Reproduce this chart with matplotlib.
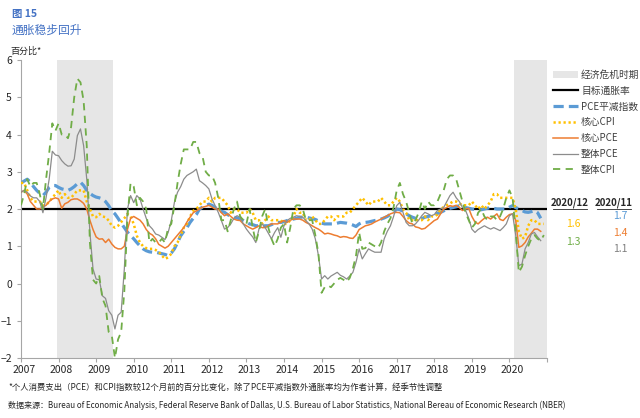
import numpy as np
import matplotlib
matplotlib.use("Agg")
import matplotlib.pyplot as plt
import matplotlib.transforms as mtransforms
from matplotlib.patches import Patch
from matplotlib.lines import Line2D

plt.rcParams['font.family'] = ['Noto Sans CJK SC', 'DejaVu Sans']

# monthly data, starting 2007-01
start_year = 2007

# Dallas Fed trimmed mean PCE (to 2020-11)
pce_trim = [
    2.70, 2.75, 2.80, 2.72, 2.60, 2.50, 2.42, 2.36, 2.45, 2.58, 2.63, 2.63,
    2.58, 2.54, 2.52, 2.50, 2.54, 2.60, 2.68, 2.72, 2.63, 2.50, 2.42, 2.36,
    2.32, 2.30, 2.27, 2.20, 2.09, 1.95, 1.87, 1.75, 1.62, 1.50, 1.38, 1.28,
    1.20, 1.10, 1.01, 0.93, 0.88, 0.85, 0.84, 0.84, 0.82, 0.80, 0.78, 0.75,
    0.82, 0.93, 1.10, 1.28, 1.40, 1.50, 1.64, 1.75, 1.85, 2.00, 2.05, 2.09,
    2.13, 2.10, 2.04, 1.98, 1.94, 1.91, 1.85, 1.80, 1.78, 1.76, 1.73, 1.69,
    1.64, 1.60, 1.58, 1.55, 1.55, 1.54, 1.55, 1.55, 1.58, 1.62, 1.64, 1.64,
    1.66, 1.69, 1.71, 1.73, 1.75, 1.78, 1.78, 1.78, 1.76, 1.74, 1.72, 1.68,
    1.62, 1.60, 1.60, 1.60, 1.60, 1.62, 1.64, 1.63, 1.62, 1.60, 1.57, 1.53,
    1.60, 1.64, 1.64, 1.65, 1.67, 1.69, 1.71, 1.73, 1.76, 1.80, 1.86, 1.91,
    2.00, 1.98, 1.94, 1.87, 1.82, 1.78, 1.75, 1.73, 1.74, 1.78, 1.80, 1.82,
    1.85, 1.88, 1.91, 1.95, 2.00, 2.02, 2.04, 2.06, 2.09, 2.07, 2.04, 2.02,
    2.00, 1.99, 1.98, 1.98, 2.00, 2.02, 2.04, 2.02, 2.00, 2.00, 2.00, 2.00,
    2.05, 2.09, 2.04, 2.00, 1.96, 1.92, 1.91, 1.93, 1.96, 1.90, 1.75,
]

# core CPI (to 2020-12)
core_cpi = [
    2.7, 2.7, 2.5, 2.3, 2.2, 2.2, 2.2, 2.1, 2.1, 2.2, 2.3, 2.4,
    2.5, 2.3, 2.4, 2.3, 2.3, 2.4, 2.5, 2.5, 2.5, 2.2, 2.0, 1.8,
    1.78, 1.87, 1.8, 1.78, 1.69, 1.55, 1.5, 1.55, 1.65, 1.75, 1.87, 1.8,
    1.6, 1.28, 1.1, 1.0, 0.95, 0.93, 0.93, 0.9, 0.85, 0.75, 0.66, 0.7,
    0.8, 1.0, 1.1, 1.3, 1.5, 1.6, 1.8, 1.95, 2.0, 2.1, 2.2, 2.2,
    2.3, 2.2, 2.3, 2.3, 2.3, 2.2, 2.1, 1.9, 2.0, 2.0, 1.9, 1.9,
    1.9, 2.0, 1.9, 1.7, 1.7, 1.6, 1.7, 1.8, 1.7, 1.7, 1.7, 1.7,
    1.6, 1.6, 1.7, 1.8, 2.0, 1.9, 1.9, 1.7, 1.7, 1.8, 1.7, 1.6,
    1.6, 1.7, 1.8, 1.8, 1.7, 1.8, 1.8, 1.8, 1.9, 1.9, 2.0, 2.1,
    2.2, 2.3, 2.2, 2.1, 2.2, 2.2, 2.2, 2.3, 2.2, 2.1, 2.1, 2.2,
    2.3, 2.2, 2.0, 1.9, 1.7, 1.7, 1.7, 1.7, 1.7, 1.8, 1.7, 1.8,
    1.8, 1.85, 2.0, 2.05, 2.1, 2.15, 2.2, 2.2, 2.15, 2.1, 2.1, 2.1,
    2.2, 2.1, 2.0, 2.1, 2.0, 2.1, 2.2, 2.4, 2.4, 2.3, 2.3, 2.3,
    2.3, 2.3, 2.0, 1.4, 1.2, 1.25, 1.55, 1.7, 1.7, 1.6, 1.6, 1.6,
]

# core PCE (to 2020-11)
core_pce = [
    2.45, 2.50, 2.40, 2.20, 2.10, 2.00, 2.00, 2.05, 2.10, 2.20, 2.27, 2.30,
    2.27, 2.02, 2.14, 2.18, 2.25, 2.27, 2.27, 2.22, 2.15, 2.00, 1.70, 1.45,
    1.25, 1.19, 1.20, 1.10, 1.19, 1.06, 0.97, 0.93, 0.93, 1.00, 1.45, 1.75,
    1.80, 1.75, 1.70, 1.60, 1.45, 1.35, 1.30, 1.20, 1.05, 1.00, 0.95, 1.00,
    1.10, 1.20, 1.30, 1.40, 1.50, 1.65, 1.78, 1.90, 1.95, 2.00, 2.05, 2.07,
    2.10, 2.05, 2.00, 2.00, 1.90, 1.82, 1.87, 1.80, 1.73, 1.70, 1.69, 1.60,
    1.55, 1.50, 1.46, 1.50, 1.55, 1.50, 1.50, 1.55, 1.60, 1.60, 1.60, 1.65,
    1.69, 1.64, 1.70, 1.73, 1.73, 1.73, 1.70, 1.64, 1.60, 1.55, 1.50, 1.46,
    1.40, 1.33, 1.35, 1.33, 1.30, 1.28, 1.24, 1.26, 1.25, 1.22, 1.21, 1.30,
    1.45, 1.50, 1.55, 1.57, 1.60, 1.65, 1.69, 1.73, 1.78, 1.82, 1.87, 1.90,
    1.91, 1.90, 1.80, 1.69, 1.62, 1.60, 1.52, 1.50, 1.46, 1.48, 1.55, 1.62,
    1.69, 1.73, 1.87, 2.00, 2.04, 2.09, 2.07, 2.10, 2.04, 1.96, 2.00, 2.02,
    1.80, 1.65, 1.60, 1.68, 1.75, 1.78, 1.73, 1.80, 1.87, 1.72, 1.69, 1.78,
    1.85, 1.87, 1.70, 0.97, 1.01, 1.10, 1.25, 1.35, 1.46, 1.46, 1.40,
]

# headline PCE (to 2020-11)
pce = [
    2.45, 2.50, 2.45, 2.35, 2.30, 2.30, 2.20, 1.90, 2.30, 2.80, 3.55, 3.45,
    3.43, 3.30, 3.21, 3.15, 3.16, 3.34, 3.97, 4.15, 3.70, 2.80, 1.38, 0.39,
    0.12, 0.10, -0.33, -0.40, -0.73, -0.85, -1.22, -0.85, -0.77, 0.39, 2.00, 2.36,
    2.17, 2.36, 2.27, 2.00, 1.75, 1.55, 1.46, 1.33, 1.30, 1.24, 1.18, 1.37,
    1.69, 2.18, 2.45, 2.60, 2.80, 2.90, 2.95, 3.00, 3.07, 2.76, 2.70, 2.63,
    2.54, 2.27, 2.09, 1.91, 1.69, 1.46, 1.50, 1.60, 1.75, 1.82, 1.78, 1.60,
    1.46, 1.35, 1.25, 1.10, 1.46, 1.60, 1.50, 1.35, 1.20, 1.37, 1.50, 1.24,
    1.55, 1.69, 1.75, 1.78, 1.82, 1.80, 1.78, 1.69, 1.60, 1.46, 1.20, 0.75,
    0.12, 0.21, 0.12, 0.20, 0.25, 0.30, 0.22, 0.18, 0.12, 0.20, 0.30, 0.57,
    0.93, 0.66, 0.80, 0.93, 0.88, 0.84, 0.84, 0.84, 1.20, 1.40, 1.55, 1.80,
    2.09, 2.18, 1.91, 1.64, 1.55, 1.55, 1.60, 1.70, 1.82, 1.91, 1.87, 1.82,
    1.85, 1.96, 2.00, 2.04, 2.20, 2.36, 2.45, 2.30, 2.20, 2.04, 1.96, 1.75,
    1.46, 1.37, 1.45, 1.50, 1.55, 1.50, 1.46, 1.50, 1.46, 1.42, 1.50, 1.60,
    1.82, 1.87, 1.30, 0.48, 0.52, 0.93, 1.10, 1.33, 1.37, 1.25, 1.15,
]

# headline CPI (to 2020-12)
cpi = [
    2.1, 2.4, 2.8, 2.6, 2.7, 2.7, 2.4, 2.0, 2.8, 3.5, 4.3, 4.1,
    4.3, 4.0, 4.0, 3.9, 4.2, 5.0, 5.5, 5.4, 4.9, 3.7, 1.1, 0.1,
    0.0, 0.2, -0.4, -0.6, -1.3, -1.4, -2.0, -1.5, -1.3, -0.2, 1.8, 2.7,
    2.6, 2.1, 2.3, 2.2, 2.0, 1.1, 1.2, 1.1, 1.1, 1.2, 1.1, 1.5,
    1.6, 2.1, 2.7, 3.2, 3.6, 3.6, 3.6, 3.8, 3.8, 3.5, 3.4, 3.0,
    2.9, 2.9, 2.7, 2.3, 1.7, 1.7, 1.4, 1.7, 2.0, 2.2, 1.8, 1.7,
    1.6, 2.0, 1.5, 1.1, 1.4, 1.8, 2.0, 1.5, 1.2, 1.0, 1.2, 1.5,
    1.6, 1.1, 1.5, 2.0, 2.1, 2.1, 2.0, 1.7, 1.7, 1.7, 1.3, 0.8,
    -0.25, -0.1, -0.05, -0.1, 0.0, 0.1, 0.15, 0.1, 0.04, 0.15, 0.4, 0.75,
    1.37, 0.93, 0.95, 1.1, 1.05, 1.0, 0.95, 1.1, 1.4, 1.6, 1.75, 2.05,
    2.5, 2.7, 2.4, 2.2, 1.9, 1.6, 1.7, 1.9, 2.2, 2.0, 2.2, 2.1,
    2.1, 2.2, 2.4, 2.5, 2.8, 2.9, 2.9, 2.8, 2.5, 2.2, 1.9, 1.7,
    1.5, 1.6, 1.9, 2.0, 1.8, 1.7, 1.8, 1.8, 1.7, 1.8, 2.0, 2.3,
    2.5, 2.3, 1.4, 0.3, 0.45, 0.75, 1.0, 1.2, 1.3, 1.2, 1.15, 1.3,
]

recessions = [(2007.95, 2009.45), (2020.12, 2021.0)]
target = 2.0

years = list(range(2007, 2021))
yticks = [-2, -1, 0, 1, 2, 3, 4, 5, 6]

latest_dec = [("1.6", "#FFC000"), ("1.3", "#70AD47")]
latest_nov = [("1.7", "#5B9BD5"), ("1.4", "#ED7D31"), ("1.1", "#7F7F7F")]


def months(series):
    return start_year + np.arange(len(series)) / 12.0


fig = plt.figure(figsize=(6.4, 4.18), dpi=100)
ax = fig.add_axes([21 / 640, 1 - 358 / 418, 526 / 640, 298 / 418])

for a, b in recessions:
    ax.axvspan(a, b, color="#E6E6E6", lw=0, zorder=0)

ax.axhline(target, color="black", lw=1.6, zorder=2)

ax.plot(months(pce_trim), pce_trim, color="#5B9BD5", lw=2.3, dashes=(3.2, 1.6), zorder=3)
ax.plot(months(core_cpi), core_cpi, color="#FFC000", lw=1.8, dashes=(0.9, 1.1), zorder=4)
ax.plot(months(core_pce), core_pce, color="#ED7D31", lw=1.1, zorder=5)
ax.plot(months(pce), pce, color="#8C8C8C", lw=0.9, zorder=6)
ax.plot(months(cpi), cpi, color="#70AD47", lw=1.3, dashes=(4, 3), zorder=7)

ax.set_xlim(2007, 2021)
ax.set_ylim(-2, 6)
ax.set_xticks(years + [2021])
ax.set_xticklabels([str(y) for y in years] + [""])
ax.set_yticks(yticks)
ax.tick_params(axis="both", labelsize=7.5, length=3, width=0.8, colors="#A6A6A6", labelcolor="#262626")
ax.tick_params(axis="x", pad=2)
shift = mtransforms.ScaledTranslation(3 / 100, 0, fig.dpi_scale_trans)
for lab in ax.get_xticklabels():
    lab.set_transform(lab.get_transform() + shift)
for s in ["top", "right"]:
    ax.spines[s].set_visible(False)
for s in ["left", "bottom"]:
    ax.spines[s].set_color("#A6A6A6")
    ax.spines[s].set_linewidth(0.8)

# titles
fig.text(12 / 640, 1 - 14 / 418, "图 15", color="#4472C4", fontsize=7.5, fontweight="bold", va="center")
fig.text(12 / 640, 1 - 30 / 418, "通胀稳步回升", color="#4472C4", fontsize=8.5, va="center")
fig.text(10 / 640, 1 - 51 / 418, "百分比*", color="#262626", fontsize=6.5, va="center")

# legend
handles = [
    Patch(facecolor="#E6E6E6", edgecolor="none"),
    Line2D([], [], color="black", lw=1.6),
    Line2D([], [], color="#5B9BD5", lw=2.3, dashes=(3.2, 1.6)),
    Line2D([], [], color="#FFC000", lw=1.8, dashes=(0.9, 1.1)),
    Line2D([], [], color="#ED7D31", lw=1.1),
    Line2D([], [], color="#8C8C8C", lw=0.9),
    Line2D([], [], color="#70AD47", lw=1.3, dashes=(4, 3)),
]
labels = ["经济危机时期", "目标通胀率", "PCE平减指数", "核心CPI", "核心PCE", "整体PCE", "整体CPI"]
fig.legend(handles, labels, loc="upper left", bbox_to_anchor=(549 / 640, 1 - 66 / 418),
           frameon=False, fontsize=7, labelcolor="#404040", handlelength=2.6,
           handletextpad=0.3, labelspacing=0.6, borderaxespad=0)

# latest values
fig.text(570 / 640, 1 - 203 / 418, "2020/12", fontsize=7, fontweight="bold",
         ha="center", va="center", color="#262626")
fig.text(614 / 640, 1 - 203 / 418, "2020/11", fontsize=7, fontweight="bold",
         ha="center", va="center", color="#262626")
for xl in [553, 597]:
    fig.add_artist(Line2D([xl / 640, (xl + 34) / 640], [1 - 209 / 418] * 2, color="#262626", lw=0.6))
for i, (txt, col) in enumerate(latest_dec):
    fig.text(573 / 640, 1 - (224 + 18 * i) / 418, txt, fontsize=7.5, color=col,
             ha="center", va="center")
for i, (txt, col) in enumerate(latest_nov):
    fig.text(620 / 640, 1 - (216 + 16.5 * i) / 418, txt, fontsize=7.5, color=col,
             ha="center", va="center")

# footnotes
fig.text(8 / 640, 1 - 387 / 418,
         "*个人消费支出（PCE）和CPI指数较12个月前的百分比变化，除了PCE平减指数外通胀率均为作者计算，经季节性调整",
         fontsize=6, color="#262626", va="center")
fig.text(8 / 640, 1 - 405 / 418,
         "数据来源：Bureau of Economic Analysis, Federal Reserve Bank of Dallas, U.S. Bureau of Labor Statistics, "
         "National Bereau of Economic Research (NBER)",
         fontsize=5.8, color="#262626", va="center")

fig.savefig("out.png", dpi=100)
